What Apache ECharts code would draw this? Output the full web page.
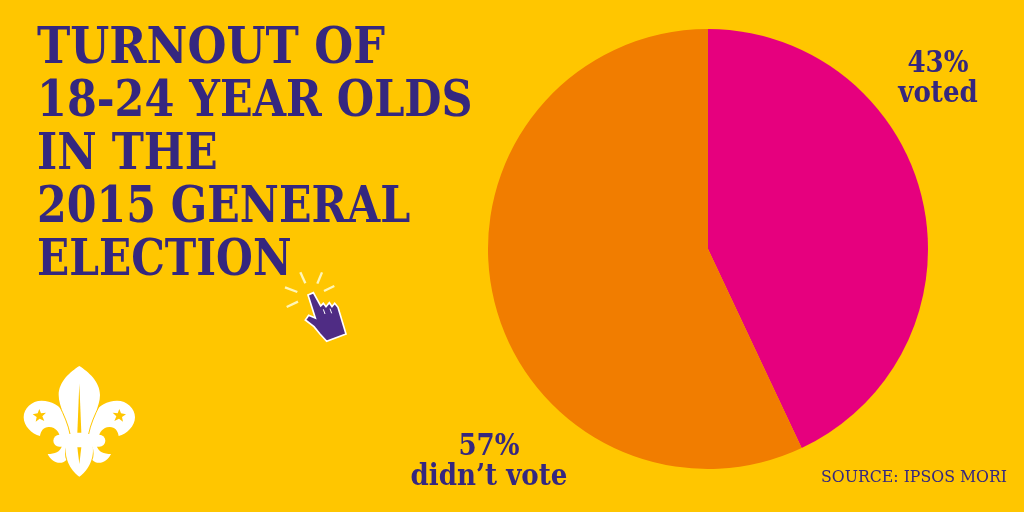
<!DOCTYPE html>
<html><head><meta charset="utf-8"><style>html,body{margin:0;padding:0;background:#ffc600}#c{width:1024px;height:512px}</style>
<script src="https://cdn.jsdelivr.net/npm/echarts@6/dist/echarts.min.js"></script></head>
<body><div id="c"></div><script>
const categories=["voted","didn’t vote"];
const values=[43,57];
const colors=['#e6007e','#f17d00'];
const titleLines=["TURNOUT OF","18-24 YEAR OLDS","IN THE","2015 GENERAL","ELECTION"];
const titleFit=[0.995,0.955,0.96,0.95,0.94];
const sourceText="SOURCE: IPSOS MORI";
const ink='#35277f';
const bg='#ffc600';
const font='"DejaVu Serif Condensed","DejaVu Serif"';
const chart=echarts.init(document.getElementById('c'));

const fleurWhite=[
 "M238 378 C265 395 300 425 300 465 C300 500 275 535 268 592 L208 592 C201 535 176 500 176 465 C176 425 211 395 238 378 Z",
 "M212 592 C222 545 185 482 125 482 C95 482 71 505 71 532 C71 558 95 582 120 588 C122 572 132 560 148 561 C168 562 178 578 180 592 Z",
 "M264 592 C254 545 291 482 351 482 C381 482 405 505 405 532 C405 558 381 582 356 588 C354 572 344 560 328 561 C308 562 298 578 296 592 Z",
 "M178 584 L298 584 A18 18 0 0 1 298 620 L178 620 A18 18 0 0 1 178 584 Z",
 "M198 618 L278 618 C284 660 260 695 238 710 C216 695 192 660 198 618 Z",
 "M186 618 C180 636 165 642 143 642 C155 667 182 677 199 660 C194 650 194 635 199 618 Z",
 "M290 618 C296 636 311 642 333 642 C321 667 294 677 277 660 C282 650 282 635 277 618 Z"
];
const fleurCuts=[
 "M238 430 L244 578 L232 578 Z",
 "M232 622 L244 622 L238 672 Z",
 "M118 507 L123 520 L138 518 L127 529 L133 543 L119 536 L107 545 L110 531 L98 523 L113 520 Z",
 "M358 507 L363 520 L378 523 L366 531 L369 545 L357 536 L343 543 L349 529 L338 518 L353 520 Z"
];
const fleurSlits=["M178 497 C192 525 205 555 210 582","M298 497 C284 525 271 555 266 582"];
const hand="M924 165 L940 158 L962 198 L970 190 L978 200 L988 188 L996 200 L1004 190 L1014 202 L1038 282 L980 304 L960 282 L942 260 L916 240 L926 226 L946 234 Z";
const handGaps=["M970 208 L975 222","M990 206 L995 220"];
const rays=["M855 142 L892 156","M860 201 L894 185","M901 97 L916 130","M966 97 L952 131","M1003 138 L972 153"];

const pathEl=(d,style)=>({type:'path',shape:{pathData:d},style});
const renderDecor=()=>({type:'group',x:0,y:240,scaleX:1/3,scaleY:1/3,silent:true,children:[
 ...fleurWhite.map(d=>pathEl(d,{fill:'#fff'})),
 ...fleurCuts.map(d=>pathEl(d,{fill:bg})),
 ...fleurSlits.map(d=>pathEl(d,{fill:'none',stroke:bg,lineWidth:3})),
 pathEl(hand,{fill:'#4f2c84',stroke:'#fff',lineWidth:5}),
 ...handGaps.map(d=>pathEl(d,{fill:'none',stroke:'#fff',lineWidth:3})),
 ...rays.map(d=>pathEl(d,{fill:'none',stroke:'#fff6b8',lineWidth:7}))
]});

const txt=(x,y,t,s,w,sx)=>({type:'text',x,y,scaleX:sx||1,style:{text:t,fill:ink,font:`${w||'normal'} ${s}px ${font}`,align:'center',verticalAlign:'middle'}});
const eye=(cx,cy,r,pc,px,py,pr)=>[
 {type:'circle',shape:{cx,cy,r},style:{fill:'#fff'}},
 {type:'circle',shape:{cx:px,cy:py,r:pr},style:{fill:pc}}];

chart.setOption({
 animation:false,backgroundColor:bg,
 series:[
  {type:'pie',center:[708,249],radius:[0,220],startAngle:90,clockwise:true,silent:true,
   label:{show:false},labelLine:{show:false},
   data:categories.map((n,i)=>({name:n,value:values[i],itemStyle:{color:colors[i]}}))},
  {type:'custom',coordinateSystem:'none',silent:true,data:[0],renderItem:renderDecor}
 ],
 graphic:[
  ...titleLines.map((t,i)=>({type:'text',x:37,y:50+i*53,scaleX:titleFit[i],style:{text:t,fill:ink,font:`bold 50px ${font}`,align:'left',verticalAlign:'middle'}})),
  txt(938,64,values[0]+'%',29,'bold'),txt(938,94,categories[0],29,'bold'),
  txt(489,447,values[1]+'%',29,'bold'),txt(489,477,categories[1],29,'bold'),
  txt(914,477,sourceText,17.5,'normal'),
  ...eye(800,198.7,20,ink,795.3,203.3,15.3),...eye(843,198.7,20,ink,838.3,203.3,15.3),
  ...eye(603.3,343.7,18,'#0d9ddb',607.7,340.3,14),...eye(641,343.7,18,'#0d9ddb',645,340.3,14)
 ]
});
</script></body></html>
